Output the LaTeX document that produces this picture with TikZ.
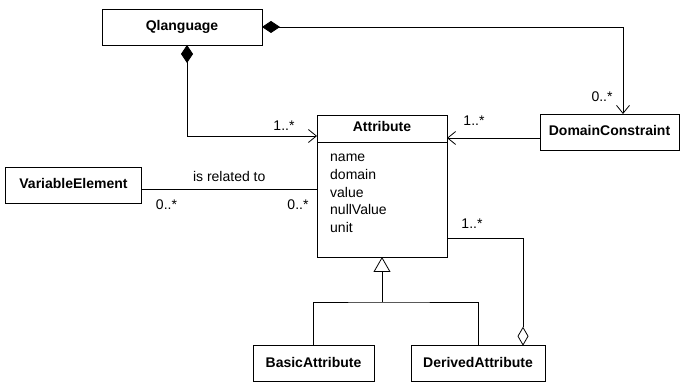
\documentclass[tikz,border=0pt]{standalone}
\usepackage{fontspec}
\setmainfont{Liberation Sans}
\usepackage{tikz}
\usetikzlibrary{shapes,arrows,positioning,calc,arrows.meta}
\tikzset{
  classBox/.style={
    rectangle,
    draw=black,
    line width=0.8pt,
    fill=white,
    font=\fontsize{14pt}{17pt}\selectfont\bfseries,
    minimum height=36pt,
    text height=10pt,
    text depth=3pt,
    inner sep=0pt,
    outer sep=0pt,
    align=center
  },
  attrBody/.style={
    rectangle,
    draw=black,
    line width=0.8pt,
    minimum width=130pt,
    minimum height=115pt,
    inner sep=0pt,
    outer sep=0pt
  },
  attrList/.style={
    font=\fontsize{14pt}{17.75pt}\selectfont,
    align=left,
    inner sep=0pt
  },
  multLabel/.style={
    font=\fontsize{14pt}{17pt}\selectfont,
    inner sep=0pt
  },
  plainLine/.style={
    line width=0.8pt
  },
  compLine/.style={
    arrows={Diamond[length=18pt,width=12pt]-Straight Barb[length=8pt,width=13pt]},
    line width=0.8pt
  },
  navLine/.style={
    -{Straight Barb[length=8pt,width=13pt]},
    line width=0.8pt
  },
  aggLine/.style={
    -{Diamond[open,length=19pt,width=11pt]},
    line width=0.8pt
  },
  genLine/.style={
    -{Triangle[open,length=15pt,width=17pt]},
    line width=0.8pt
  }
}

\begin{document}
\begin{tikzpicture}[x=1pt,y=1pt]
        \useasboundingbox (0,0) rectangle (680,383);

        \node[classBox, minimum width=160pt] (qlang) at (182,356) {Qlanguage};
        \node[classBox, minimum width=130pt, minimum height=27pt] (attr) at (382,254.5) {Attribute};
        \node[attrBody, below=0pt of attr] (attrbody) {};
        \node[attrList, anchor=west] (attrlist) at ([xshift=13pt,yshift=6pt]attrbody.west) {name\\domain\\value\\nullValue\\unit};
        \node[classBox, minimum width=139pt] (domc) at (609.5,251) {DomainConstraint};
        \node[classBox, minimum width=136pt] (varel) at (73.5,197.7) {VariableElement};
        \node[classBox, minimum width=121pt] (basic) at (313.5,19.3) {BasicAttribute};
        \node[classBox, minimum width=134pt] (derived) at (478,19.3) {DerivedAttribute};
        \coordinate (genjoint) at (382,81);

        % associations
        \draw[compLine] ([xshift=5pt]qlang.south) |- ([yshift=-7.5pt]attr.west)
            node[multLabel, pos=1, xshift=-33pt, yshift=10pt] {1..*};
        \draw[compLine] (qlang.east) -| ([xshift=13.5pt]domc.north)
            node[multLabel, pos=1, xshift=-21pt, yshift=17pt] {0..*};
        \draw[navLine] ([yshift=-6pt]domc.west) -- ([yshift=-6pt]domc.west -| attr.east)
            node[multLabel, pos=1, xshift=27pt, yshift=17pt] {1..*};
        \draw[plainLine] ([yshift=-4pt]varel.east) -- ([yshift=-4pt]varel.east -| attrbody.west)
            node[multLabel, pos=0.5, above=7pt] {is related to}
            node[multLabel, pos=0, xshift=25pt, yshift=-15.5pt] {0..*}
            node[multLabel, pos=1, xshift=-19pt, yshift=-15.5pt] {0..*};
        \draw[aggLine] ([yshift=-38.5pt]attrbody.east) -| ([xshift=45pt]derived.north)
            node[multLabel, pos=0, xshift=25pt, yshift=14pt] {1..*};

        % generalization
        \draw[genLine] (genjoint) -- (attrbody.south);
        \draw[plainLine] (basic.north) |- (genjoint) -| (derived.north);

    \end{tikzpicture}
\end{document}
